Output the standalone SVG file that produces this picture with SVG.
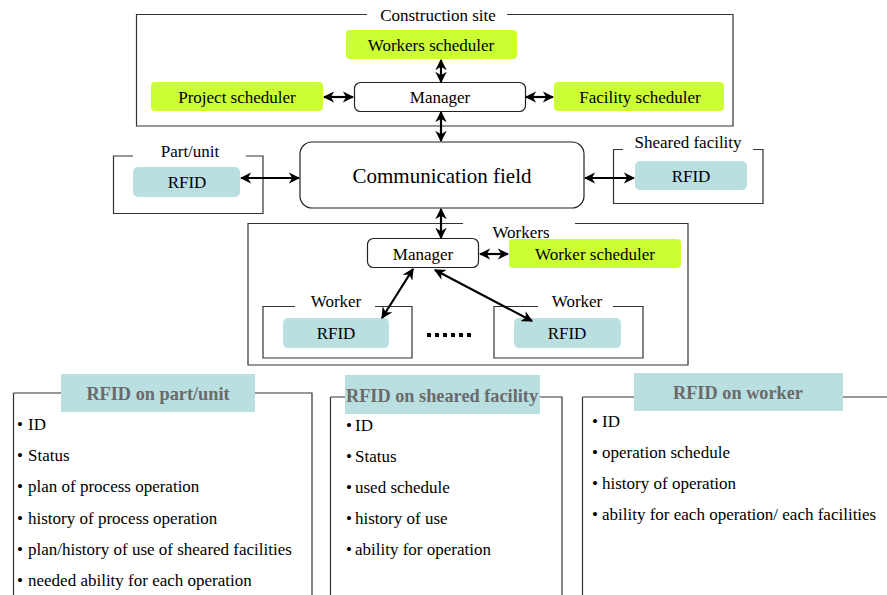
<svg xmlns="http://www.w3.org/2000/svg" width="887" height="595" viewBox="0 0 887 595" font-family="'Liberation Serif', 'Times New Roman', serif">
<style>
  text { font-family: "Liberation Serif", "Times New Roman", serif; fill: #000; }
  .frame { fill: none; stroke: #333; stroke-width: 1.2; }
  .green { fill: #ccff33; }
  .blue { fill: #b9dfe1; }
  .white { fill: #fff; stroke: #222; stroke-width: 1.2; }
  .lbl { font-size: 17px; text-anchor: middle; }
  .big { font-size: 21px; text-anchor: middle; }
  .item { font-size: 17px; }
  .ttl { font-size: 18.3px; font-weight: bold; fill: #6a6a6a; text-anchor: middle; }
  .conn { stroke: #000; stroke-width: 2.2; fill: none; marker-start: url(#ah); marker-end: url(#ah); }
</style>
<defs>
  <marker id="ah" viewBox="0 0 10 10" refX="9" refY="5" markerWidth="5.2" markerHeight="5.2" orient="auto-start-reverse">
    <path d="M0,0 L10,5 L0,10 L3,5 z" fill="#000"/>
  </marker>
</defs>
<rect width="887" height="595" fill="#fff"/>

<g id="construction-site">
  <path class="frame" d="M367,14.5 H136.5 V126 H733 V14.5 H507"/>
  <text class="lbl" x="438" y="21">Construction site</text>
</g>
<g id="workers-scheduler">
  <rect class="green" x="346" y="30" width="171" height="29" rx="4"/>
  <text class="lbl" x="431" y="50.5">Workers scheduler</text>
</g>
<g id="project-scheduler">
  <rect class="green" x="151" y="82" width="172" height="29" rx="4"/>
  <text class="lbl" x="237" y="102.5">Project scheduler</text>
</g>
<g id="site-manager">
  <rect class="white" x="354.5" y="82.5" width="171" height="29" rx="6"/>
  <text class="lbl" x="440" y="102.5">Manager</text>
</g>
<g id="facility-scheduler">
  <rect class="green" x="554" y="82" width="170" height="29" rx="4"/>
  <text class="lbl" x="640" y="102.5">Facility scheduler</text>
</g>

<g id="communication-field">
  <rect class="white" x="300" y="142" width="284" height="66" rx="12"/>
  <text class="big" x="442" y="183">Communication field</text>
</g>

<g id="part-unit">
  <path class="frame" d="M133,156 H113.5 V213.5 H263 V156 H246"/>
  <text class="lbl" x="190" y="157">Part/unit</text>
  <rect class="blue" x="133" y="167" width="107" height="30" rx="5"/>
  <text class="lbl" x="187" y="188">RFID</text>
</g>

<g id="sheared-facility">
  <path class="frame" d="M623,149.5 H613.5 V203.5 H763 V149.5 H753"/>
  <text class="lbl" x="688" y="148">Sheared facility</text>
  <rect class="blue" x="635" y="161" width="112" height="29" rx="5"/>
  <text class="lbl" x="691" y="182">RFID</text>
</g>

<g id="workers">
  <path class="frame" d="M463,223.5 H248 V365 H688 V223.5 H575"/>
  <text class="lbl" x="521" y="238">Workers</text>
</g>
<g id="workers-manager">
  <rect class="white" x="367.5" y="238.5" width="111" height="29" rx="6"/>
  <text class="lbl" x="423" y="260">Manager</text>
</g>
<g id="worker-scheduler">
  <rect class="green" x="509" y="239" width="172" height="29" rx="4"/>
  <text class="lbl" x="595" y="260">Worker scheduler</text>
</g>
<g id="worker-1">
  <path class="frame" d="M295,306.5 H263 V358 H412 V306.5 H375"/>
  <text class="lbl" x="336" y="307">Worker</text>
  <rect class="blue" x="283" y="318" width="106" height="30" rx="5"/>
  <text class="lbl" x="336" y="339">RFID</text>
</g>
<g id="worker-n">
  <path class="frame" d="M538,306.5 H494 V358 H643 V306.5 H613"/>
  <text class="lbl" x="577" y="307">Worker</text>
  <rect class="blue" x="514" y="318" width="107" height="30" rx="5"/>
  <text class="lbl" x="567" y="339">RFID</text>
</g>
<g id="ellipsis" fill="#000">
  <rect x="427" y="333" width="4" height="4"/>
  <rect x="435" y="333" width="4" height="4"/>
  <rect x="443" y="333" width="4" height="4"/>
  <rect x="451" y="333" width="4" height="4"/>
  <rect x="459" y="333" width="4" height="4"/>
  <rect x="467" y="333" width="4" height="4"/>
</g>

<g id="connectors">
  <line class="conn" x1="441" y1="60" x2="441" y2="82"/>
  <line class="conn" x1="324" y1="97" x2="353" y2="97"/>
  <line class="conn" x1="526" y1="97" x2="553" y2="97"/>
  <line class="conn" x1="441" y1="112" x2="441" y2="141"/>
  <line class="conn" x1="241" y1="178" x2="299" y2="178"/>
  <line class="conn" x1="585" y1="178" x2="634" y2="178"/>
  <line class="conn" x1="441" y1="209" x2="441" y2="238"/>
  <line class="conn" x1="480" y1="254" x2="508" y2="254"/>
  <line class="conn" x1="413" y1="269" x2="382" y2="318"/>
  <line class="conn" x1="435" y1="270" x2="532" y2="321"/>
</g>

<g id="panel-part-unit">
  <path class="frame" d="M13.5,393 V595 M13.5,393 H312 V595"/>
  <rect class="blue" x="61" y="374" width="194" height="38"/>
  <text class="ttl" x="158" y="400">RFID on part/unit</text>
  <text class="item" y="430"><tspan x="17">•</tspan><tspan x="28">ID</tspan></text>
  <text class="item" y="461"><tspan x="17">•</tspan><tspan x="28">Status</tspan></text>
  <text class="item" y="492"><tspan x="17">•</tspan><tspan x="28">plan of process operation</tspan></text>
  <text class="item" y="523.5"><tspan x="17">•</tspan><tspan x="28">history of process operation</tspan></text>
  <text class="item" y="554.5"><tspan x="17">•</tspan><tspan x="28">plan/history of use of sheared facilities</tspan></text>
  <text class="item" y="586"><tspan x="17">•</tspan><tspan x="28">needed ability for each operation</tspan></text>
</g>

<g id="panel-sheared-facility">
  <path class="frame" d="M330.5,397 V595 M330.5,397 H562 V595"/>
  <rect class="blue" x="345" y="375" width="195" height="39"/>
  <text class="ttl" x="442" y="402">RFID on sheared facility</text>
  <text class="item" y="431"><tspan x="346">•</tspan><tspan x="355">ID</tspan></text>
  <text class="item" y="462"><tspan x="346">•</tspan><tspan x="355">Status</tspan></text>
  <text class="item" y="493"><tspan x="346">•</tspan><tspan x="355">used schedule</tspan></text>
  <text class="item" y="524"><tspan x="346">•</tspan><tspan x="355">history of use</tspan></text>
  <text class="item" y="555"><tspan x="346">•</tspan><tspan x="355">ability for operation</tspan></text>
</g>

<g id="panel-worker">
  <path class="frame" d="M582.5,397 V595 M582.5,397 H887"/>
  <rect class="blue" x="634" y="373" width="209" height="38"/>
  <text class="ttl" x="738" y="399">RFID on worker</text>
  <text class="item" y="427"><tspan x="592">•</tspan><tspan x="602">ID</tspan></text>
  <text class="item" y="458"><tspan x="592">•</tspan><tspan x="602">operation schedule</tspan></text>
  <text class="item" y="489"><tspan x="592">•</tspan><tspan x="602">history of operation</tspan></text>
  <text class="item" y="520"><tspan x="592">•</tspan><tspan x="602">ability for each operation/ each facilities</tspan></text>
</g>
</svg>
